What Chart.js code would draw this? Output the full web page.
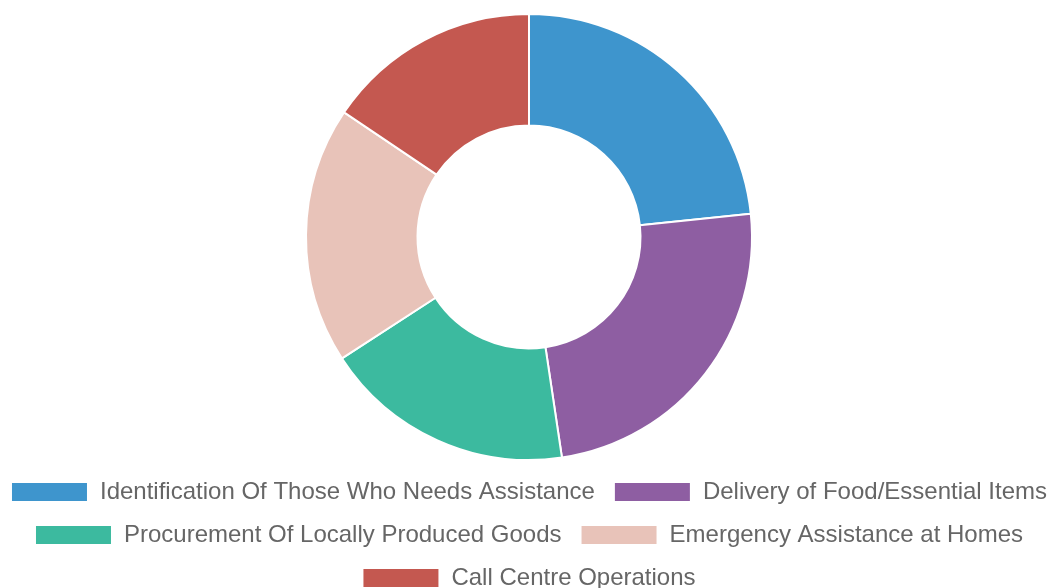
<!DOCTYPE html>
<html>
<head>
<meta charset="utf-8">
<script src="https://cdn.jsdelivr.net/npm/chart.js@4.4.0/dist/chart.umd.min.js"></script>
<style>
  html, body { margin: 0; padding: 0; background: #fff; overflow: hidden; }
  /* slightly wider than the window so the first legend row holds two items */
  #wrap { width: 1080px; height: 588px; margin-left: -11px; }
</style>
</head>
<body>
<div id="wrap"><canvas id="myDoughnutChart"></canvas></div>
<script>
// Categories and values
const labels = [
  'Identification Of Those Who Needs Assistance',
  'Delivery of Food/Essential Items',
  'Procurement Of Locally Produced Goods',
  'Emergency Assistance at Homes',
  'Call Centre Operations'
];
const values = [84, 87.5, 65.5, 67, 56];
const colors = ['#3e95cd', '#8e5ea2', '#3cba9f', '#e8c3b9', '#c45850'];

const ctx = document.getElementById('myDoughnutChart').getContext('2d');
const myDoughnutChart = new Chart(ctx, {
  type: 'doughnut',
  data: {
    labels: labels,
    datasets: [{
      data: values,
      backgroundColor: colors,
      borderColor: '#fff',
      borderWidth: 2,
    }],
  },
  options: {
    responsive: true,
    maintainAspectRatio: false,
    animation: false,
    cutout: '50%',
    layout: { padding: { top: 13, bottom: -12 } },
    plugins: {
      tooltip: { enabled: false },
      legend: {
        position: 'bottom',
        labels: {
          color: '#666',
          font: { family: "'Liberation Sans', Arial, sans-serif", size: 24 },
          boxWidth: 77,
          boxHeight: 20,
          padding: 19,
        },
      },
    },
  },
});
</script>
</body>
</html>
